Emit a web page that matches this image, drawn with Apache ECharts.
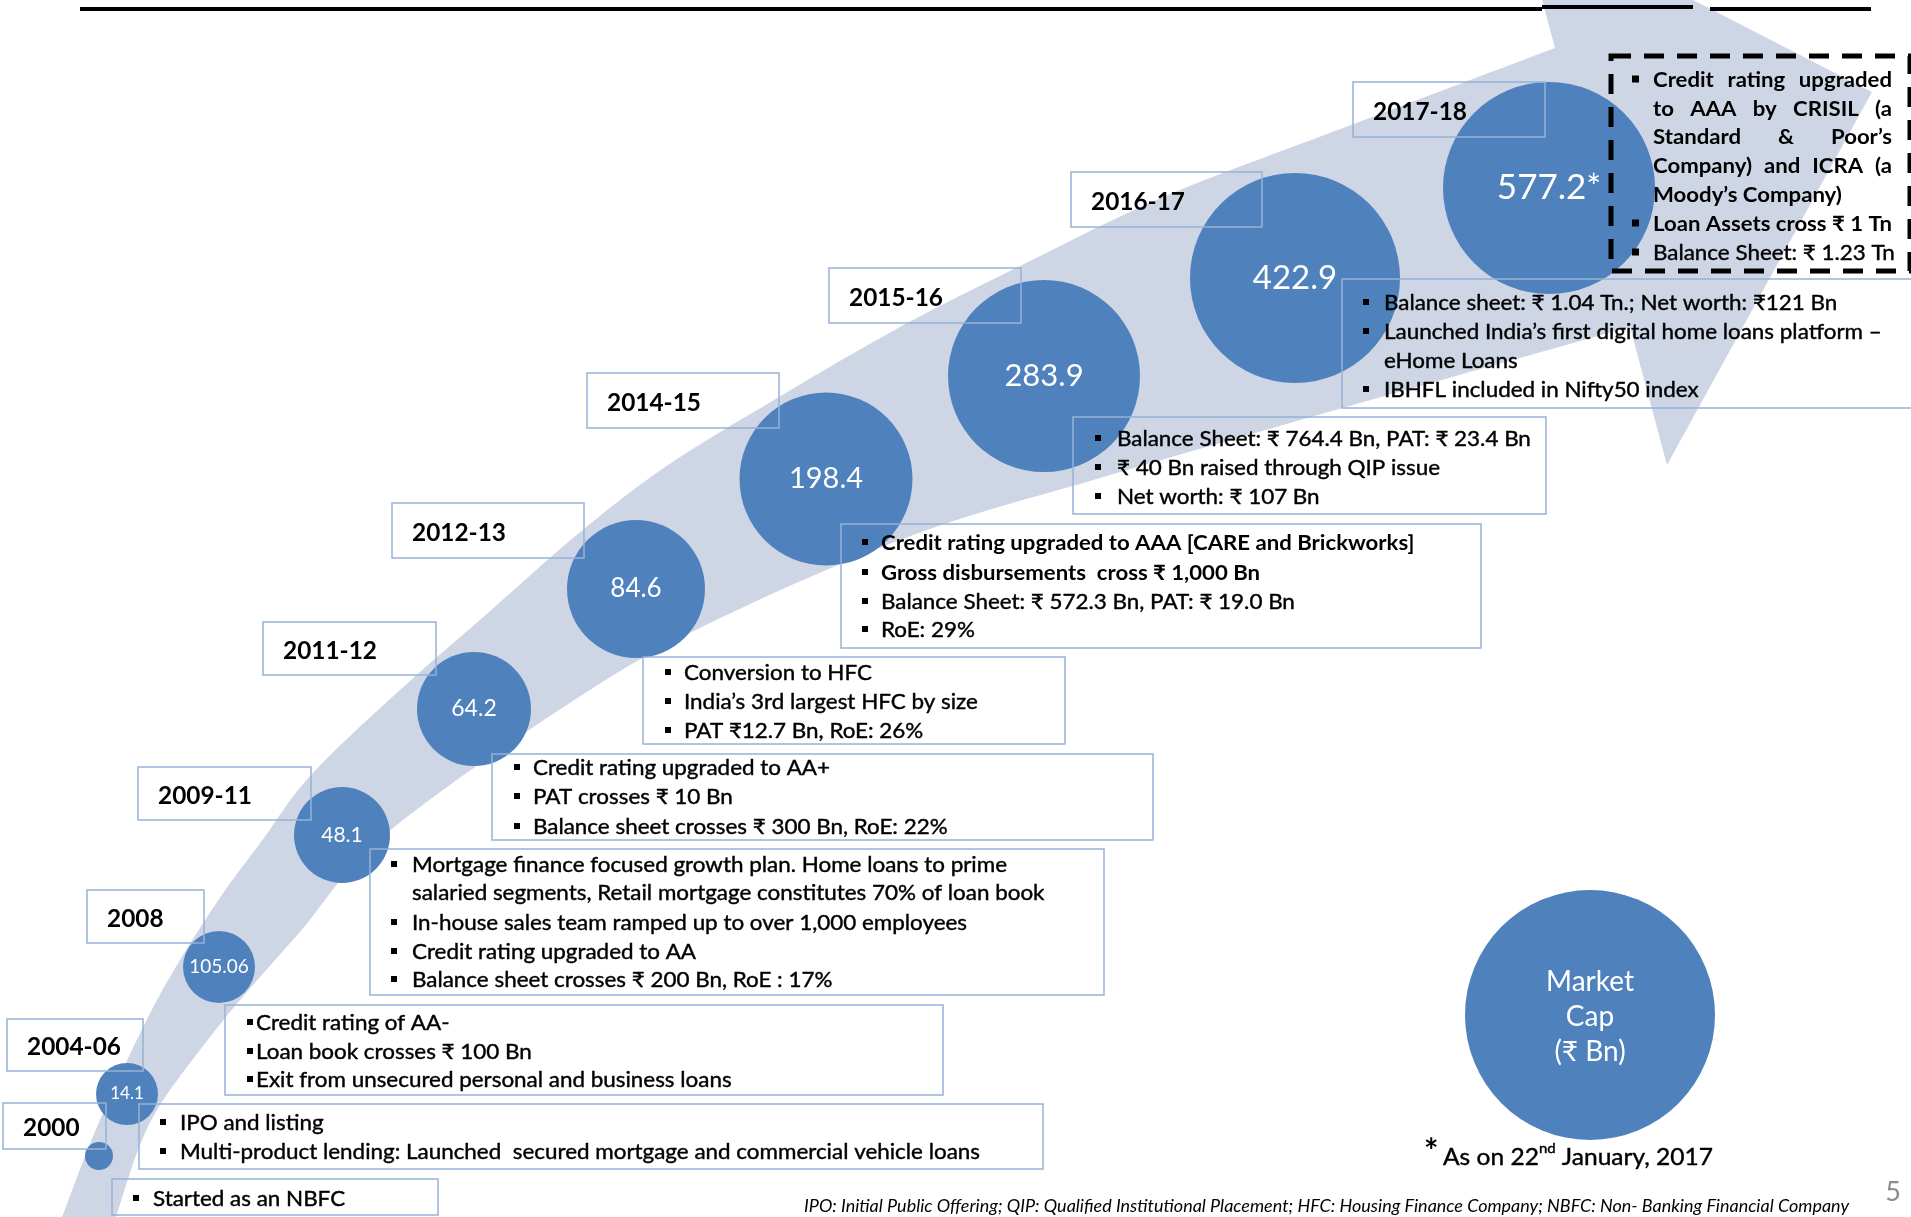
<!DOCTYPE html>
<html><head><meta charset="utf-8">
<script src="https://cdn.jsdelivr.net/npm/echarts@6/dist/echarts.min.js"></script>
<style>html,body{margin:0;padding:0;background:#fff;overflow:hidden}#c{width:1911px;height:1217px}</style>
</head><body><div id="c"></div><script>
// ---------------- DATA ----------------
const years = ['2000','2004-06','2008','2009-11','2011-12','2012-13','2014-15','2015-16','2016-17','2017-18'];
const marketCap = [null, 14.1, 105.06, 48.1, 64.2, 84.6, 198.4, 283.9, 422.9, 577.2];
const capLabels = ['', '14.1', '105.06', '48.1', '64.2', '84.6', '198.4', '283.9', '422.9', '577.2*'];

const notesNBFC = ['Started as an NBFC'];
const notes2000 = ['IPO and listing', 'Multi-product lending: Launched  secured mortgage and commercial vehicle loans'];
const notes2004 = ['Credit rating of AA-', 'Loan book crosses ₹ 100 Bn', 'Exit from unsecured personal and business loans'];
const notes2008 = ['Mortgage finance focused growth plan. Home loans to prime', 'salaried segments, Retail mortgage constitutes 70% of loan book', 'In-house sales team ramped up to over 1,000 employees', 'Credit rating upgraded to AA', 'Balance sheet crosses ₹ 200 Bn, RoE : 17%'];
const notes2009 = ['Credit rating upgraded to AA+', 'PAT crosses ₹ 10 Bn', 'Balance sheet crosses ₹ 300 Bn, RoE: 22%'];
const notes2011 = ['Conversion to HFC', 'India’s 3rd largest HFC by size', 'PAT ₹12.7 Bn, RoE: 26%'];
const notes2012 = ['Credit rating upgraded to AAA [CARE and Brickworks]', 'Gross disbursements  cross ₹ 1,000 Bn', 'Balance Sheet: ₹ 572.3 Bn, PAT: ₹ 19.0 Bn', 'RoE: 29%'];
const notes2014 = ['Balance Sheet: ₹ 764.4 Bn, PAT: ₹ 23.4 Bn', '₹ 40 Bn raised through QIP issue', 'Net worth: ₹ 107 Bn'];
const notes2015 = ['Balance sheet: ₹ 1.04 Tn.; Net worth: ₹121 Bn', 'Launched India’s first digital home loans platform –', 'eHome Loans', 'IBHFL included in Nifty50 index'];
const notesTop = ['Credit rating upgraded', 'to AAA by CRISIL (a', 'Standard & Poor’s', 'Company) and ICRA (a', 'Moody’s Company)', 'Loan Assets cross ₹ 1 Tn', 'Balance Sheet: ₹ 1.23 Tn'];
const legendLines = ['Market', 'Cap', '(₹ Bn)'];
const footnote = ['As on 22', 'nd', ' January, 2017'];
const footer = 'IPO: Initial Public Offering; QIP: Qualified Institutional Placement; HFC: Housing Finance Company; NBFC: Non- Banking Financial Company';
const pageNo = '5';

// ---------------- LAYOUT (pixel units on hidden axes) ----------------
const bubbleX = [99, 127, 219, 342, 474, 636, 826, 1044, 1295, 1549];
const bubbleY = [1156, 1094, 967, 835, 709, 589, 479, 376, 278, 188];
const bubbleD = [28, 62, 72, 96, 114, 138, 173, 192, 210, 212];
const labelSize = [0, 17, 19, 21, 23, 26, 29, 31, 33, 35];
const yearBox = [[3,1103,103,46],[7,1019,136,52],[87,890,117,53],[138,767,173,53],[263,622,173,53],[392,503,192,55],[587,373,192,55],[829,268,192,55],[1071,172,191,55],[1353,82,192,55]];

const BLUE = '#4F81BD', BAND = '#CED6E6', EDGE = '#95B3D7';
const F = "Lato, 'Open Sans', sans-serif";
const cv = document.createElement('canvas').getContext('2d');
function mw(font, s) { cv.font = font; return cv.measureText(s).width; }
const BODY = 21;
const SX = 800 / mw(BODY + 'px ' + F, notes2000[1]);
const SXB = 239 / mw('bold ' + BODY + 'px ' + F, notesTop[5]);
const YR = 25;
const SXY = 94 / mw('bold ' + YR + 'px ' + F, '2017-18');
const FOOT = 17;
const SXF = 1045 / mw('italic ' + FOOT + 'px ' + F, footer);

const G = [];
function txt(x, y, s, o) {
  o = o || {};
  const size = o.size || BODY;
  const fill = o.color || '#000';
  const st = { text: s, x: 0, y: 0, font: (o.italic ? 'italic ' : '') + (o.bold ? 'bold ' : '') + size + 'px ' + F,
      fill: fill, align: o.align || 'left', verticalAlign: 'middle' };
  if (!o.bold && !o.noStroke) { st.stroke = fill; st.lineWidth = 0.4; }
  G.push({ type: 'text', x: x, y: y, scaleX: o.sx || 1, z: o.z || 30, silent: true, style: st });
}
function rect(x, y, w, h, o) {
  o = o || {};
  G.push({ type: 'rect', z: o.z || 25, silent: true, shape: { x: x, y: y, width: w, height: h },
    style: { fill: o.fill || 'none', stroke: o.stroke || null, lineWidth: o.lw || 1.5, lineDash: o.dash || null } });
}
function bullet(x, cy, s) { s = s || 6; rect(x, cy - s / 2 - 1, s, s, { fill: '#000', z: 30 }); }

// band (decorative curved arrow) - sampled Catmull-Rom
function crPts(p) {
  const out = [p[0]];
  for (let i = 0; i < p.length - 1; i++) {
    const p0 = p[Math.max(i - 1, 0)], p1 = p[i], p2 = p[i + 1], p3 = p[Math.min(i + 2, p.length - 1)];
    const c1 = [p1[0] + (p2[0] - p0[0]) / 6, p1[1] + (p2[1] - p0[1]) / 6];
    const c2 = [p2[0] - (p3[0] - p1[0]) / 6, p2[1] - (p3[1] - p1[1]) / 6];
    for (let k = 1; k <= 10; k++) {
      const t = k / 10, u = 1 - t;
      out.push([u*u*u*p1[0] + 3*u*u*t*c1[0] + 3*u*t*t*c2[0] + t*t*t*p2[0],
                u*u*u*p1[1] + 3*u*u*t*c1[1] + 3*u*t*t*c2[1] + t*t*t*p2[1]]);
    }
  }
  return out;
}
const outerEdge = [[62,1217],[100,1120],[157,1000],[215,905],[261,842],[311,775],[400,690],[489,612],[579,533],[668,465],[779,397],[900,327],[1020,266],[1168,195],[1351,125],[1555,48]];
const innerEdge = [[1630,327],[1346,407],[1100,478],[913,535],[712,622],[579,697],[387,833],[299,933],[240,1000],[200,1050],[160,1105],[138,1150],[116,1217]];
const bandPts = crPts(outerEdge).concat([[1518,-90],[1872,92],[1667,465]]).concat(crPts(innerEdge));
G.push({ type: 'polygon', z: 0, silent: true, shape: { points: bandPts }, style: { fill: BAND } });

// top rule
G.push({ type: 'line', z: 40, silent: true, shape: { x1: 80, y1: 9, x2: 1542, y2: 9 }, style: { stroke: '#000', lineWidth: 4 } });
G.push({ type: 'line', z: 40, silent: true, shape: { x1: 1542, y1: 7, x2: 1693, y2: 7 }, style: { stroke: '#000', lineWidth: 4 } });
G.push({ type: 'line', z: 40, silent: true, shape: { x1: 1710, y1: 9, x2: 1871, y2: 9 }, style: { stroke: '#000', lineWidth: 4 } });

// year boxes
years.forEach(function (y, i) {
  const b = yearBox[i];
  rect(b[0], b[1], b[2], b[3], { stroke: EDGE });
  txt(b[0] + 20, b[1] + b[3] / 2 + 2, y, { bold: true, size: YR, sx: SXY });
});

// note boxes
function noteBox(lines, bx, by, bw, bh, bulX, txX, ys, opts) {
  opts = opts || {};
  rect(bx, by, bw, bh, { stroke: EDGE });
  lines.forEach(function (s, i) {
    const noBullet = opts.cont && opts.cont.indexOf(i) >= 0;
    if (!noBullet) bullet(bulX, ys[i], opts.bs);
    const bold = opts.bold && opts.bold.indexOf(i) >= 0;
    txt(txX, ys[i], s, { bold: bold, sx: bold ? SXB : SX });
  });
}
noteBox(notesNBFC, 112, 1179, 326, 36, 133, 153, [1199]);
noteBox(notes2000, 139, 1104, 904, 65, 160, 180, [1123, 1152]);
noteBox(notes2004, 225, 1005, 718, 90, 247, 256, [1023, 1052, 1080]);
noteBox(notes2008, 370, 849, 734, 146, 391, 412, [865, 893, 923, 952, 980], { cont: [1] });
noteBox(notes2009, 492, 754, 661, 86, 514, 533, [768, 797, 827]);
noteBox(notes2011, 643, 657, 422, 87, 665, 684, [673, 702, 731]);
noteBox(notes2012, 841, 524, 640, 124, 862, 881, [543, 573, 602, 630], { bold: [0, 1] });
noteBox(notes2014, 1073, 417, 473, 97, 1095, 1117, [439, 468, 497]);
noteBox(notes2015, 1342, 279, 620, 129, 1363, 1384, [303, 332, 361, 390], { cont: [2] });

// dashed highlight box (justified text)
rect(1611, 56, 299, 215, { stroke: '#000', lw: 5, dash: [20, 13], z: 26 });
const topYs = [80, 109, 137, 166, 195, 224, 253];
const jL = 1653, jR = 1892;
notesTop.forEach(function (s, i) {
  if (i === 0 || i === 5 || i === 6) bullet(1632, topYs[i], 7);
  const bold = i < 6;
  const font = (bold ? 'bold ' : '') + BODY + 'px ' + F;
  const sc = bold ? SXB : SX;
  if (i < 4) {
    const words = s.split(' ');
    const ws = words.map(function (w) { return mw(font, w) * sc; });
    const tot = ws.reduce(function (a, b) { return a + b; }, 0);
    const gap = (jR - jL - tot) / (words.length - 1);
    let x = jL;
    words.forEach(function (w, k) { txt(x, topYs[i], w, { bold: bold, sx: sc }); x += ws[k] + gap; });
  } else {
    txt(jL, topYs[i], s, { bold: bold, sx: sc });
  }
});

// legend bubble
G.push({ type: 'circle', z: 3, silent: true, shape: { cx: 1590, cy: 1015, r: 125 }, style: { fill: BLUE } });
legendLines.forEach(function (s, i) { txt(1590, 982 + i * 35, s, { size: 28, color: '#fff', align: 'center', sx: 1, noStroke: true }); });

// footnote
txt(1424, 1152, '*', { bold: true, size: 34 });
(function () {
  const f1 = '23px ' + F, f2 = '14px ' + F;
  let x = 1443;
  txt(x, 1158, footnote[0], { size: 23, sx: SX });
  x += mw(f1, footnote[0]) * SX;
  txt(x, 1148, footnote[1], { size: 14, sx: SX });
  x += mw(f2, footnote[1]) * SX;
  txt(x, 1158, footnote[2], { size: 23, sx: SX });
})();
txt(804, 1207, footer, { italic: true, size: FOOT, sx: SXF, color: '#000', noStroke: true });
txt(1893, 1192, pageNo, { size: 27, color: '#8C8C8C', align: 'center', noStroke: true });

// ---------------- CHART ----------------
const chart = echarts.init(document.getElementById('c'), null, { renderer: 'canvas' });
chart.setOption({
  animation: false,
  backgroundColor: '#fff',
  grid: { left: 0, right: 0, top: 0, bottom: 0, containLabel: false },
  xAxis: { type: 'value', min: 0, max: 1911, show: false },
  yAxis: { type: 'value', min: 0, max: 1217, inverse: true, show: false },
  series: [{
    type: 'scatter', z: 2,
    data: years.map(function (y, i) {
      return { name: y, value: [bubbleX[i], bubbleY[i], marketCap[i]], symbolSize: bubbleD[i],
        label: { fontSize: labelSize[i] } };
    }),
    itemStyle: { color: BLUE, opacity: 1 },
    label: { show: true, position: 'inside', color: '#fff', fontFamily: F,
      formatter: function (p) { return capLabels[p.dataIndex]; } },
    emphasis: { disabled: true }
  }],
  graphic: { elements: G }
});
</script></body></html>
